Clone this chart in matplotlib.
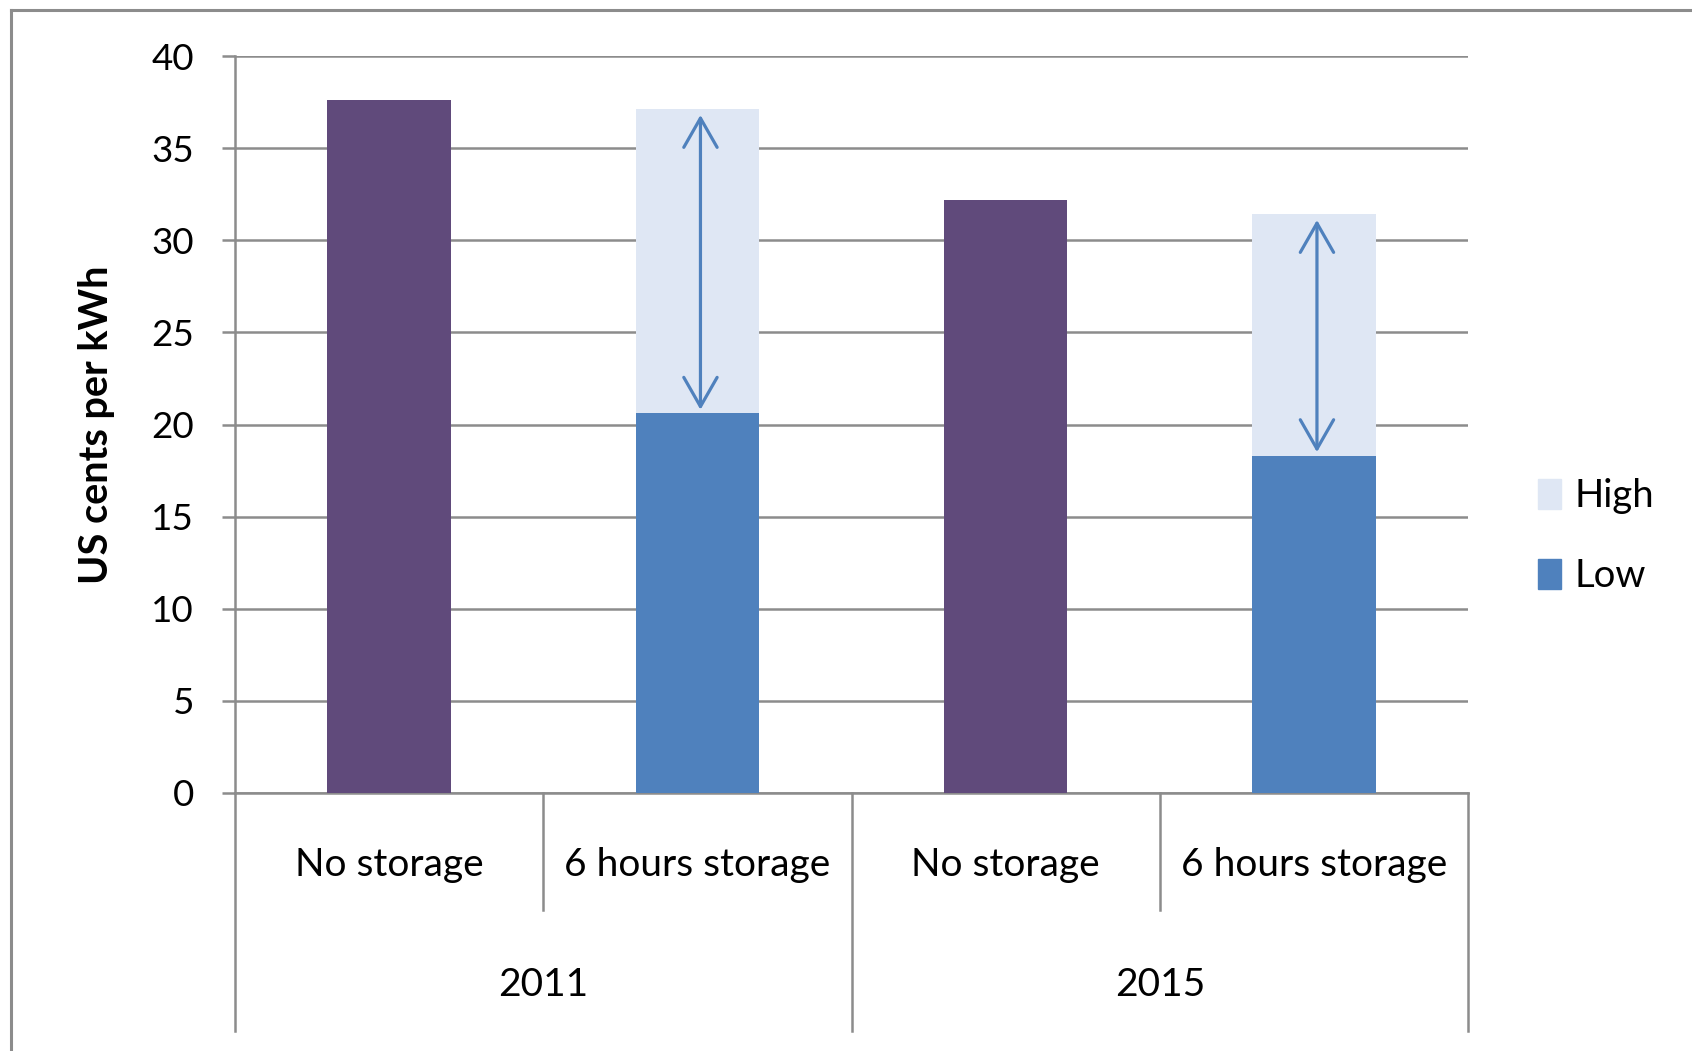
import matplotlib
matplotlib.use("Agg")
import matplotlib.pyplot as plt
from matplotlib.patches import Patch
from matplotlib.lines import Line2D
import matplotlib.transforms as mtransforms

plt.rcParams['font.family'] = ['Lato', 'DejaVu Sans']

# Data (US cents per kWh)
groups = ['2011', '2015']
categories = ['No storage', '6 hours storage', 'No storage', '6 hours storage']
no_storage = [37.6, 32.2]
storage_low = [20.6, 18.3]
storage_high = [37.1, 31.4]
yticks = [0, 5, 10, 15, 20, 25, 30, 35, 40]

PURPLE = '#604A7B'
BLUE = '#4F81BD'
LIGHT = '#DFE7F4'
GRID = '#8C8C8C'
TEXT = '#000000'

fig = plt.figure(figsize=(16.92, 10.51), dpi=100)
ax = fig.add_axes([235 / 1692, 1 - 793 / 1051, (1468 - 235) / 1692, (793 - 56) / 1051])

width = 0.4
pos_none = [0, 2]
pos_store = [1, 3]
ax.bar(pos_none, no_storage, width=width, color=PURPLE, zorder=3)
ax.bar(pos_store, storage_low, width=width, color=BLUE, zorder=3, label='Low')
ax.bar(pos_store, [h - l for h, l in zip(storage_high, storage_low)], bottom=storage_low,
       width=width, color=LIGHT, zorder=3, label='High')

# Range arrows across the storage bars
for x, lo, hi in zip(pos_store, storage_low, storage_high):
    ax.annotate('', xy=(x + 0.01, hi - 0.3), xytext=(x + 0.01, lo + 0.2),
                arrowprops=dict(arrowstyle='<->,head_length=21,head_width=12',
                                mutation_scale=1, lw=2.3, color=BLUE,
                                shrinkA=0, shrinkB=0),
                zorder=4)

ax.set_xlim(-0.5, 3.5)
ax.set_ylim(0, 40)
ax.set_yticks(yticks)
ax.set_yticklabels([str(v) for v in yticks], fontsize=26.5, color=TEXT)
ax.tick_params(axis='y', length=9.5, width=1.8, color=GRID, pad=20)
ax.set_xticks([])
ax.yaxis.grid(True, color=GRID, lw=1.8, zorder=0)
ax.set_axisbelow(True)
for side in ['top', 'right']:
    ax.spines[side].set_visible(False)
for side in ['left', 'bottom']:
    ax.spines[side].set_color(GRID)
    ax.spines[side].set_linewidth(1.8)

ax.set_ylabel('US cents per kWh', fontsize=28.5, fontweight='bold', labelpad=26)

# Two-level category axis
trans = mtransforms.blended_transform_factory(ax.transData, ax.transAxes)
for xb in [-0.5, 1.5, 3.5]:
    ax.add_line(Line2D([xb, xb], [0, -0.323], transform=trans, color=GRID,
                       lw=1.8, clip_on=False))
for xb in [0.5, 2.5]:
    ax.add_line(Line2D([xb, xb], [0, -0.159], transform=trans, color=GRID,
                       lw=1.8, clip_on=False))
for i, c in enumerate(categories):
    ax.text(i, -0.098, c, transform=trans, ha='center', va='center', fontsize=28)
for g, gx in zip(groups, [0.5, 2.5]):
    ax.text(gx, -0.261, g, transform=trans, ha='center', va='center', fontsize=28)

handles = [Patch(color=LIGHT), Patch(color=BLUE)]
fig.legend(handles, ['High', 'Low'], loc='center left',
           bbox_to_anchor=(1504 / 1692, 1 - 536 / 1051), frameon=False,
           fontsize=27.5, handlelength=0.6, handleheight=0.85, handletextpad=0.35,
           labelspacing=1.15)

# Chart-area border along the top and left edges
fig.add_artist(Line2D([11 / 1692, 1], [1 - 10 / 1051, 1 - 10 / 1051],
                      transform=fig.transFigure, color=GRID, lw=2.2))
fig.add_artist(Line2D([11 / 1692, 11 / 1692], [0, 1 - 10 / 1051],
                      transform=fig.transFigure, color=GRID, lw=2.2))

fig.savefig('out.png', dpi=100)
